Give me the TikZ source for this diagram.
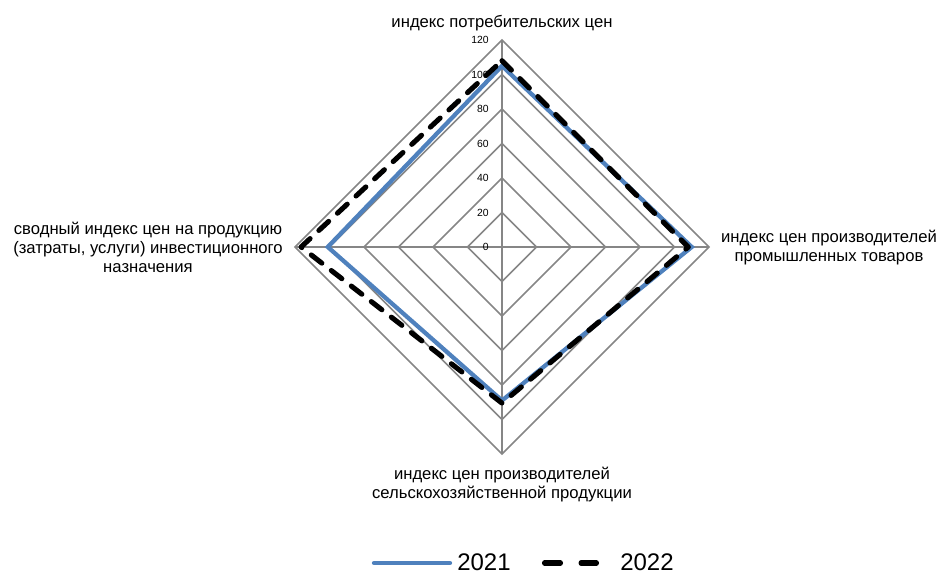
\documentclass[tikz,border=0pt]{standalone}
\usepackage{fontspec}
\setmainfont{Liberation Sans}
\usetikzlibrary{calc}
\begin{document}
\begin{tikzpicture}[x=0.75pt,y=0.75pt,
  grid/.style={draw={rgb,255:red,134;green,134;blue,134},line width=1.1pt},
  lbl/.style={align=center,anchor=base,font=\fontsize{12.5}{14.25}\selectfont,inner sep=0pt},
  tick/.style={anchor=east,font=\fontsize{7.8}{9}\selectfont,inner sep=0pt},
  s21/.style={draw={rgb,255:red,79;green,129;blue,189},line width=3.2pt,line join=miter},
  s22/.style={draw=black,line width=3.8pt,line cap=round,line join=round,dash pattern=on 10pt off 9pt},
  leg/.style={anchor=west,font=\fontsize{18}{20}\selectfont,inner sep=0pt}]
\useasboundingbox (0,0) rectangle (939,574);
\coordinate (c) at (502,327);
\def\k{1.725}
% grid rings
\foreach \v in {20,40,...,120}{
  \draw[grid] ($(c)+(90:\v*\k)$) -- ($(c)+(0:\v*\k)$) -- ($(c)+(270:\v*\k)$) -- ($(c)+(180:\v*\k)$) -- cycle;
}
\foreach \a in {90,0,270,180}{
  \draw[grid] (c) -- ++(\a:120*\k);
}
% tick labels
\foreach \v in {0,20,...,120}{
  \node[tick] (t\v) at ($(c)+(-13,\v*\k)$) {\v};
}
% series 2021
\draw[s21] ($(c)+(90:105*\k)$) -- ($(c)+(0:110*\k)$) -- ($(c)+(270:89*\k)$) -- ($(c)+(180:101*\k)$) -- cycle;
% series 2022
\draw[s22] ($(c)+(90:108*\k)$) -- ($(c)+(0:108*\k)$) -- ($(c)+(270:90.5*\k)$) -- ($(c)+(180:116.5*\k)$) -- cycle;
% axis labels
\node[lbl] (ltop) at (502,546) {индекс потребительских цен};
\node[lbl] (lright) at (829,312) {индекс цен производителей\\промышленных товаров};
\node[lbl] (lleft) at (148,301) {сводный индекс цен на продукцию\\(затраты, услуги) инвестиционного\\назначения};
\node[lbl] (lbot) at (502,75) {индекс цен производителей\\сельскохозяйственной продукции};
% legend
\coordinate (l1a) at (374,11);
\coordinate (l1b) at (450,11);
\draw[s21,line cap=round] (l1a) -- (l1b);
\node[leg] (n21) at (457,12) {2021};
\coordinate (l2a) at (544.5,11);
\coordinate (l2b) at (596.5,11);
\draw[s22,dash pattern=on 12pt off 15.4pt] (l2a) -- (l2b);
\node[leg] (n22) at (620,12) {2022};
\end{tikzpicture}
\end{document}
